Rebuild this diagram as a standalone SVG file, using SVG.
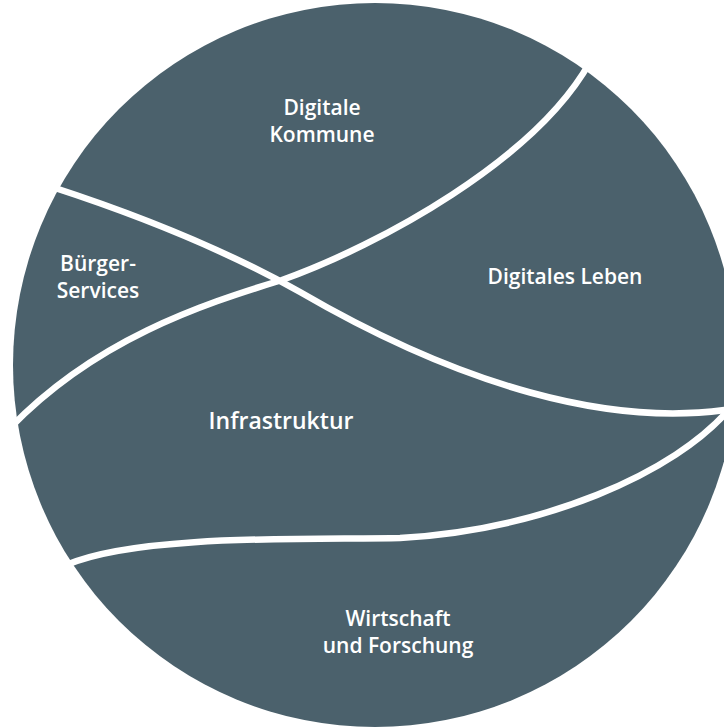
<svg xmlns="http://www.w3.org/2000/svg" width="724" height="728" viewBox="0 0 724 728">
<style>
.lbl{font-family:"Open Sans","Liberation Sans",sans-serif;font-weight:600;font-size:21px;fill:#ffffff;text-anchor:middle}
.big{font-size:23px}
.sep{fill:none;stroke:#ffffff;stroke-width:6.5;stroke-linecap:butt}
</style>
<rect width="724" height="728" fill="#ffffff"/>
<circle id="disc" cx="375" cy="365" r="362" fill="#4b616c"/>
<g id="connectors">
<path class="sep" d="M590,62 C535,160 380,245 282,280 C200,305 95,340 10,428"/>
<path class="sep" d="M52,187 C132,213 220,247 300,292 C460,385 610,428 732,409"/>
<path class="sep" d="M732,406 C675,475 540,530 400,538 C320,540 140,533 66,565"/>
</g>
<g id="digitale-kommune"><text class="lbl" x="322" y="115">Digitale</text><text class="lbl" x="322" y="142">Kommune</text></g>
<g id="buerger-services"><text class="lbl" x="98" y="271">Bürger-</text><text class="lbl" x="98" y="298">Services</text></g>
<g id="digitales-leben"><text class="lbl" x="565" y="284">Digitales Leben</text></g>
<g id="infrastruktur"><text class="lbl big" x="281" y="429">Infrastruktur</text></g>
<g id="wirtschaft-forschung"><text class="lbl" x="398" y="626">Wirtschaft</text><text class="lbl" x="398" y="653">und Forschung</text></g>
</svg>
